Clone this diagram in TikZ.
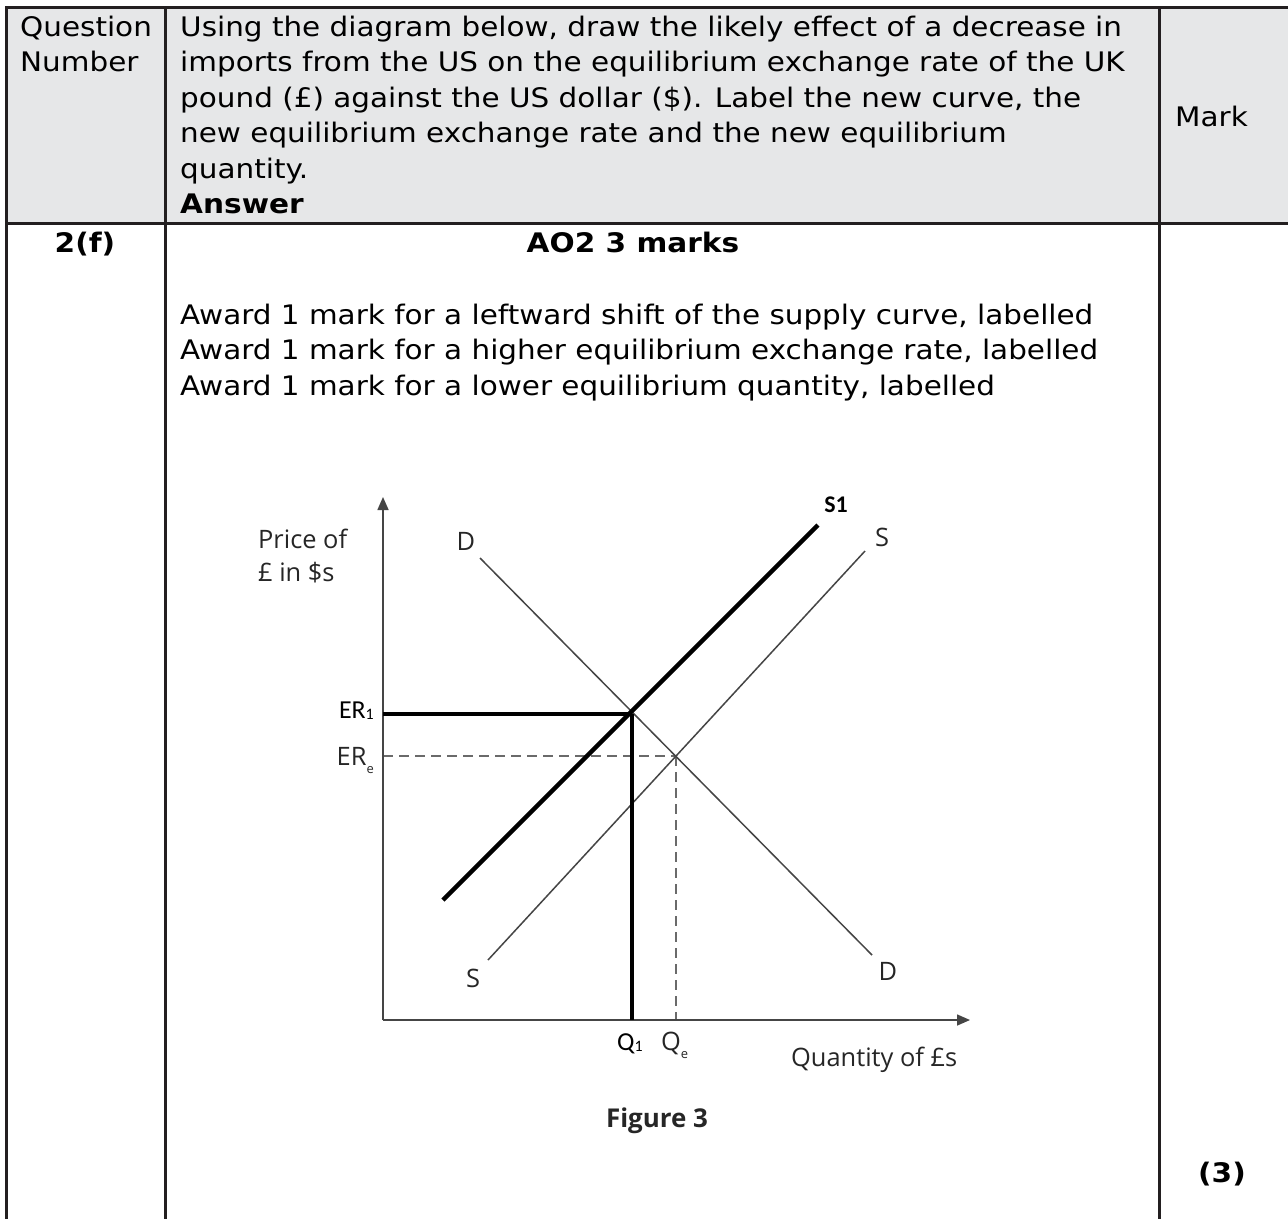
\documentclass[tikz,border=0pt]{standalone}
\usepackage{fontspec}
\setmainfont[FakeStretch=1.095, BoldFeatures={FakeStretch=1.1}]{DejaVu Sans}
\newfontfamily\graphfont{Open Sans}
\newfontfamily\calfont{Carlito}
\usetikzlibrary{arrows.meta}
\definecolor{rulec}{HTML}{231F20}
\definecolor{hdrc}{HTML}{E6E7E8}
\definecolor{curvec}{HTML}{454545}
\definecolor{dashc}{HTML}{6A6A6A}
\begin{document}
\begin{tikzpicture}[x=1bp,y=-1bp,
  tabline/.style={rulec, line width=3bp},
  tabtext/.style={inner sep=0pt, anchor=base west, text=black, font=\fontsize{27}{33}\selectfont},
  tabbold/.style={inner sep=0pt, anchor=base, text=black, font=\fontsize{27}{33}\selectfont\bfseries},
  axisline/.style={curvec, line width=1.6bp, -{Triangle[length=13bp,width=11bp]}},
  thincurve/.style={curvec, line width=1.5bp},
  thickcurve/.style={black, line width=4.5bp},
  dashline/.style={dashc, line width=1.5bp, dash pattern=on 10bp off 6bp},
  glabel/.style={inner sep=0pt, text=black!85, font=\graphfont\fontsize{25.5}{28}\selectfont},
  clabel/.style={inner sep=0pt, text=black, font=\calfont\fontsize{26}{28}\selectfont}
]
\useasboundingbox (0,0) rectangle (1288,1219);
\fill[white] (0,0) rectangle (1288,1219);
% table
\fill[hdrc] (6,7) rectangle (1288,223);
\draw[tabline] (1288,7) -- (6,7) -- (6,1219);
\draw[tabline] (6,223) -- (1288,223);
\draw[tabline] (165,7) -- (165,1219);
\draw[tabline] (1159,7) -- (1159,1219);

\node[tabtext] (qn1) at (20,36) {Question};
\node[tabtext] (qn2) at (20,71.5) {Number};
\node[tabtext] (l1) at (180,36) {Using the diagram below, draw the likely effect of a decrease in};
\node[tabtext] (l2) at (180,71.5) {imports from the US on the equilibrium exchange rate of the UK};
\node[tabtext] (l3) at (180,107) {pound (£) against the US dollar (\$). Label the new curve, the};
\node[tabtext] (l4) at (180,142.5) {new equilibrium exchange rate and the new equilibrium};
\node[tabtext] (l5) at (180,178) {quantity.};
\node[tabtext, font=\fontsize{27}{33}\selectfont\bfseries] (ans) at (180,213.5) {Answer};
\node[tabtext] (mark) at (1175,126) {Mark};

\node[tabbold] (qno) at (85,252) {2(f)};
\node[tabbold] (ao) at (633,252) {AO2 3 marks};
\node[tabtext] (a1) at (180,324) {Award 1 mark for a leftward shift of the supply curve, labelled};
\node[tabtext] (a2) at (180,359.5) {Award 1 mark for a higher equilibrium exchange rate, labelled};
\node[tabtext] (a3) at (180,395) {Award 1 mark for a lower equilibrium quantity, labelled};
\node[tabbold] (three) at (1222,1182) {(3)};

% graph
\coordinate (O) at (383,1020);
\coordinate (ytip) at (383,497);
\coordinate (xtip) at (970,1020);
\coordinate (Dtop) at (480,558);
\coordinate (Dbot) at (872,955);
\coordinate (Sbot) at (488,960);
\coordinate (Stop) at (865,551);
\coordinate (S1bot) at (443,900);
\coordinate (S1top) at (818,525);
\coordinate (E1) at (632,714);
\coordinate (Ee) at (676,756);
\coordinate (ER1axis) at (383,714);
\coordinate (ERaxis) at (383,756);
\coordinate (Q1axis) at (632,1020);
\coordinate (Qeaxis) at (676,1020);

\draw[dashline] (ERaxis) -- (Ee);
\draw[dashline] (Ee) -- (Qeaxis);
\draw[thincurve] (Dtop) -- (Dbot);
\draw[thincurve] (Sbot) -- (Stop);
\draw[axisline] (O) -- (ytip);
\draw[axisline] (O) -- (xtip);
\draw[thickcurve] (S1bot) -- (S1top);
\draw[thickcurve] (ER1axis) -- (E1);
\draw[thickcurve, line width=4bp] (E1) -- (Q1axis);

\node[glabel, anchor=base west] (price1) at (258,548) {Price of};
\node[glabel, anchor=base west] (price2) at (258,581) {£ in \$s};
\node[glabel] (Dlab) at (466,541) {D};
\node[glabel] (Dlab2) at (888,971) {D};
\node[glabel] (Slab) at (882,537) {S};
\node[glabel] (Slab2) at (473,978) {S};
\node[clabel, anchor=base, font=\calfont\bfseries\fontsize{24}{26}\selectfont] (S1lab) at (836,512) {S1};
\node[clabel, anchor=base east] (ER1lab) at (374,718) {ER{\fontsize{16}{16}\selectfont\raisebox{-1bp}{1}}};
\node[glabel, anchor=base east] (ERelab) at (374,765) {ER{\fontsize{13}{13}\selectfont\raisebox{-8bp}{e}}};
\node[clabel, anchor=base west] (Q1lab) at (617,1050) {Q{\fontsize{16}{16}\selectfont\raisebox{-1bp}{1}}};
\node[glabel, anchor=base west] (Qelab) at (661,1050) {Q{\fontsize{13}{13}\selectfont\raisebox{-8bp}{e}}};
\node[glabel, anchor=base west] (qty) at (791,1066) {Quantity of £s};
\node[glabel, anchor=base, font=\graphfont\bfseries\fontsize{26}{28}\selectfont] (fig) at (657,1127) {Figure 3};
\end{tikzpicture}
\end{document}
